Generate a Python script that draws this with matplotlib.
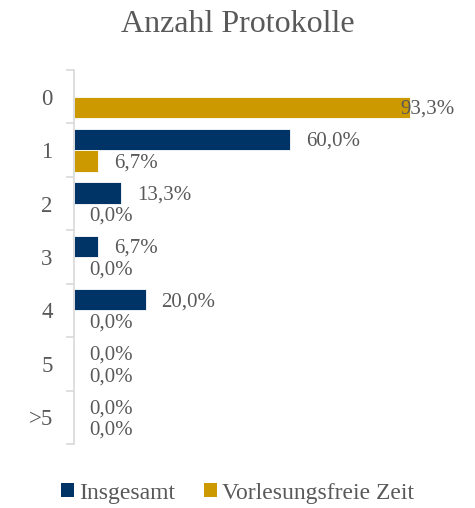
import numpy as np
import matplotlib
matplotlib.use("Agg")
import matplotlib.pyplot as plt
from matplotlib.patches import Patch

categories = ["0", "1", "2", "3", "4", "5", ">5"]
insgesamt = [np.nan, 60.0, 13.3, 6.7, 20.0, 0.0, 0.0]
vorlesungsfrei = [93.3, 6.7, 0.0, 0.0, 0.0, 0.0, 0.0]
series_names = ["Insgesamt", "Vorlesungsfreie Zeit"]
title = "Anzahl Protokolle"

navy = "#003366"
gold = "#CC9900"
txt = "#595959"
grid = "#D9D9D9"

plt.rcParams["font.family"] = ["Liberation Serif", "DejaVu Serif"]

fig = plt.figure(figsize=(4.75, 5.08), dpi=100)
ax = fig.add_axes([73.5 / 475, 1 - 444 / 508, (434 - 73.5) / 475, (444 - 70) / 508])

y = np.arange(len(categories))
h = 0.4
ax.barh(y - h / 2, insgesamt, height=h, color=navy, edgecolor="white", linewidth=0.6, zorder=3)
ax.barh(y + h / 2, vorlesungsfrei, height=h, color=gold, edgecolor="white", linewidth=0.6, zorder=3)

def fmt(v):
    return f"{v:.1f}".replace(".", ",") + "%"

for vals, off in ((insgesamt, -h / 2), (vorlesungsfrei, h / 2)):
    for yi, v in zip(y, vals):
        if np.isnan(v):
            continue
        dx = 11.5 if v < 85 else -7
        ax.annotate(fmt(v), (v, yi + off), xytext=(dx, -1.5), textcoords="offset points",
                    ha="left", va="center", fontsize=15, color=txt, zorder=4)

ax.set_xlim(0, 100)
ax.set_ylim(len(categories) - 0.5, -0.5)
ax.set_xticks([0, 50, 100])
ax.xaxis.set_visible(False)
ax.grid(axis="x", color=grid, linewidth=1.2, zorder=0)
for s in ("top", "right", "bottom"):
    ax.spines[s].set_visible(False)
ax.spines["left"].set_color(grid)
ax.spines["left"].set_linewidth(1.2)
ax.spines["left"].set_zorder(5)

ax.set_yticks(y)
ax.set_yticklabels(categories, fontsize=16.5, color=txt)
ax.tick_params(axis="y", which="major", length=0, pad=15)
ax.set_yticks(np.arange(-0.5, len(categories)), minor=True)
ax.tick_params(axis="y", which="minor", length=6, width=1.2, color=grid)

fig.text(0.5, 1 - 24 / 508, title, ha="center", va="center", fontsize=23, color=txt)

handles = [Patch(facecolor=navy), Patch(facecolor=gold)]
fig.legend(handles, series_names, loc="center", bbox_to_anchor=(0.5, 1 - 493 / 508), ncol=2,
           frameon=False, fontsize=17, labelcolor=txt, handlelength=0.55, handleheight=0.55,
           handletextpad=0.2, columnspacing=1.25)

fig.savefig("out.png", dpi=100, facecolor="white")
